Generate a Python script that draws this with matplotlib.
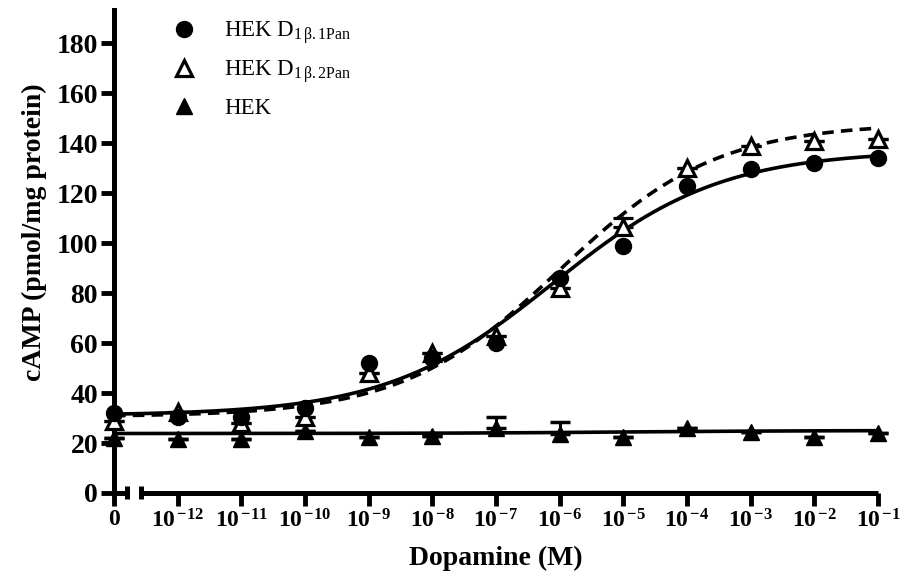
import numpy as np
import matplotlib
matplotlib.use("Agg")
import matplotlib.pyplot as plt
from matplotlib.lines import Line2D

plt.rcParams["font.family"] = ["Liberation Serif", "DejaVu Serif"]
plt.rcParams["mathtext.fontset"] = "custom"
plt.rcParams["mathtext.rm"] = "Liberation Serif"
plt.rcParams["mathtext.it"] = "Liberation Serif:italic"
plt.rcParams["mathtext.bf"] = "Liberation Serif:bold"

# log10 dopamine concentration; -13 stands for the "0" (no dopamine) point
log_dose = [-13, -12, -11, -10, -9, -8, -7, -6, -5, -4, -3, -2, -1]
dose_labels = ["0", "-12", "-11", "-10", "-9", "-8", "-7", "-6", "-5", "-4", "-3", "-2", "-1"]

camp_b1 = [32, 30.5, 30.5, 34, 52, 54, 60, 86, 99, 123, 129.5, 132, 134]
camp_b2 = [29, 32.5, 28, 30.5, 48, 56, 63, 82, 106.5, 130, 139, 141, 141.5]
camp_b2_err = [0, 0, 0, 0, 0, 0, 0, 0, 3.5, 0, 0, 0, 0]
camp_hek = [22, 21.5, 21.5, 25, 22.5, 23, 26, 23.5, 22.5, 26, 24.5, 22.5, 24]
camp_hek_err = [0, 0, 0, 0, 0, 0, 4.5, 5, 0, 0, 0, 0, 0]

# fitted sigmoidal dose-response curves: bottom, top, logEC50, hill slope
fit_b1 = (31, 137, -6.1, 0.33)
fit_b2 = (30.5, 148, -6.0, 0.35)
fit_hek = (23.8, 25.0, -5.0, 0.30)


def sigmoid(x, p):
    bottom, top, logec50, hill = p
    return bottom + (top - bottom) / (1 + 10 ** ((logec50 - x) * hill))


fig = plt.figure(figsize=(9.05, 5.76), dpi=100)
ax = fig.add_axes([0.1260, 0.1441, 0.8442, 0.8385])

xs = np.linspace(-13, -1, 300)
ax.plot(xs, sigmoid(xs, fit_b2), color="black", lw=2.6, dashes=(3.2, 2.0), zorder=2)
ax.plot(xs, sigmoid(xs, fit_b1), color="black", lw=2.6, zorder=2)
ax.plot(xs, sigmoid(xs, fit_hek), color="black", lw=2.6, zorder=2)

ax.errorbar(log_dose, camp_hek, yerr=[[0] * len(camp_hek_err), camp_hek_err],
            fmt="^", ms=12, color="black", ecolor="black", elinewidth=2.2,
            capsize=7, capthick=2.5, clip_on=False, zorder=3)
ax.errorbar(log_dose, camp_b2, yerr=[[0] * len(camp_b2_err), camp_b2_err],
            fmt="^", ms=12, mfc="white", mec="black", mew=2.3, color="black",
            ecolor="black", elinewidth=2.2, capsize=7, capthick=2.5,
            clip_on=False, zorder=4)
ax.plot(log_dose, camp_b1, "o", ms=11.5, color="black", clip_on=False, zorder=5)

ax.set_xlim(-13, -1)
ax.set_ylim(0, 193.2)

for side in ["top", "right", "bottom"]:
    ax.spines[side].set_visible(False)
ax.spines["left"].set_linewidth(3.6)

# broken x axis drawn by hand
axis_kw = dict(color="black", lw=3.6, clip_on=False, solid_capstyle="butt")
ax.plot([-13, -12.8], [0, 0], **axis_kw)
ax.plot([-12.58, -1], [0, 0], **axis_kw)
for xc in (-12.8, -12.58):
    ax.plot([xc, xc], [-2.6, 2.6], **axis_kw)

ax.set_yticks(range(0, 181, 20))
ax.set_xticks(log_dose)
ax.set_xticklabels([dose_labels[0]] + [r"$\mathbf{10^{\,{%s}}}$" % s for s in dose_labels[1:]])
ax.tick_params(axis="both", direction="out", length=9.5, width=3.5, pad=2)
ax.tick_params(axis="y", labelsize=20)
ax.tick_params(axis="x", labelsize=17)
for lab in ax.get_yticklabels() + ax.get_xticklabels():
    lab.set_fontweight("bold")

ax.set_ylabel("cAMP (pmol/mg protein)", fontsize=20, fontweight="bold")
ax.yaxis.set_label_coords(-0.088, 0.54)
ax.set_xlabel("Dopamine (M)", fontsize=20, fontweight="bold", labelpad=10)

handles = [
    Line2D([], [], ls="none", marker="o", ms=11.5, color="black"),
    Line2D([], [], ls="none", marker="^", ms=12, mfc="white", mec="black", mew=2.3),
    Line2D([], [], ls="none", marker="^", ms=12, color="black"),
]
labels = [
    r"HEK D$_{\mathrm{1\,β.1Pan}}$",
    r"HEK D$_{\mathrm{1\,β.2Pan}}$",
    "HEK",
]
ax.legend(handles, labels, loc="upper left", bbox_to_anchor=(0.069, 0.981),
          frameon=False, fontsize=16.5, handlelength=1.5, handletextpad=1.0,
          labelspacing=0.55, borderpad=0, borderaxespad=0)

fig.savefig("out.png", dpi=100)
